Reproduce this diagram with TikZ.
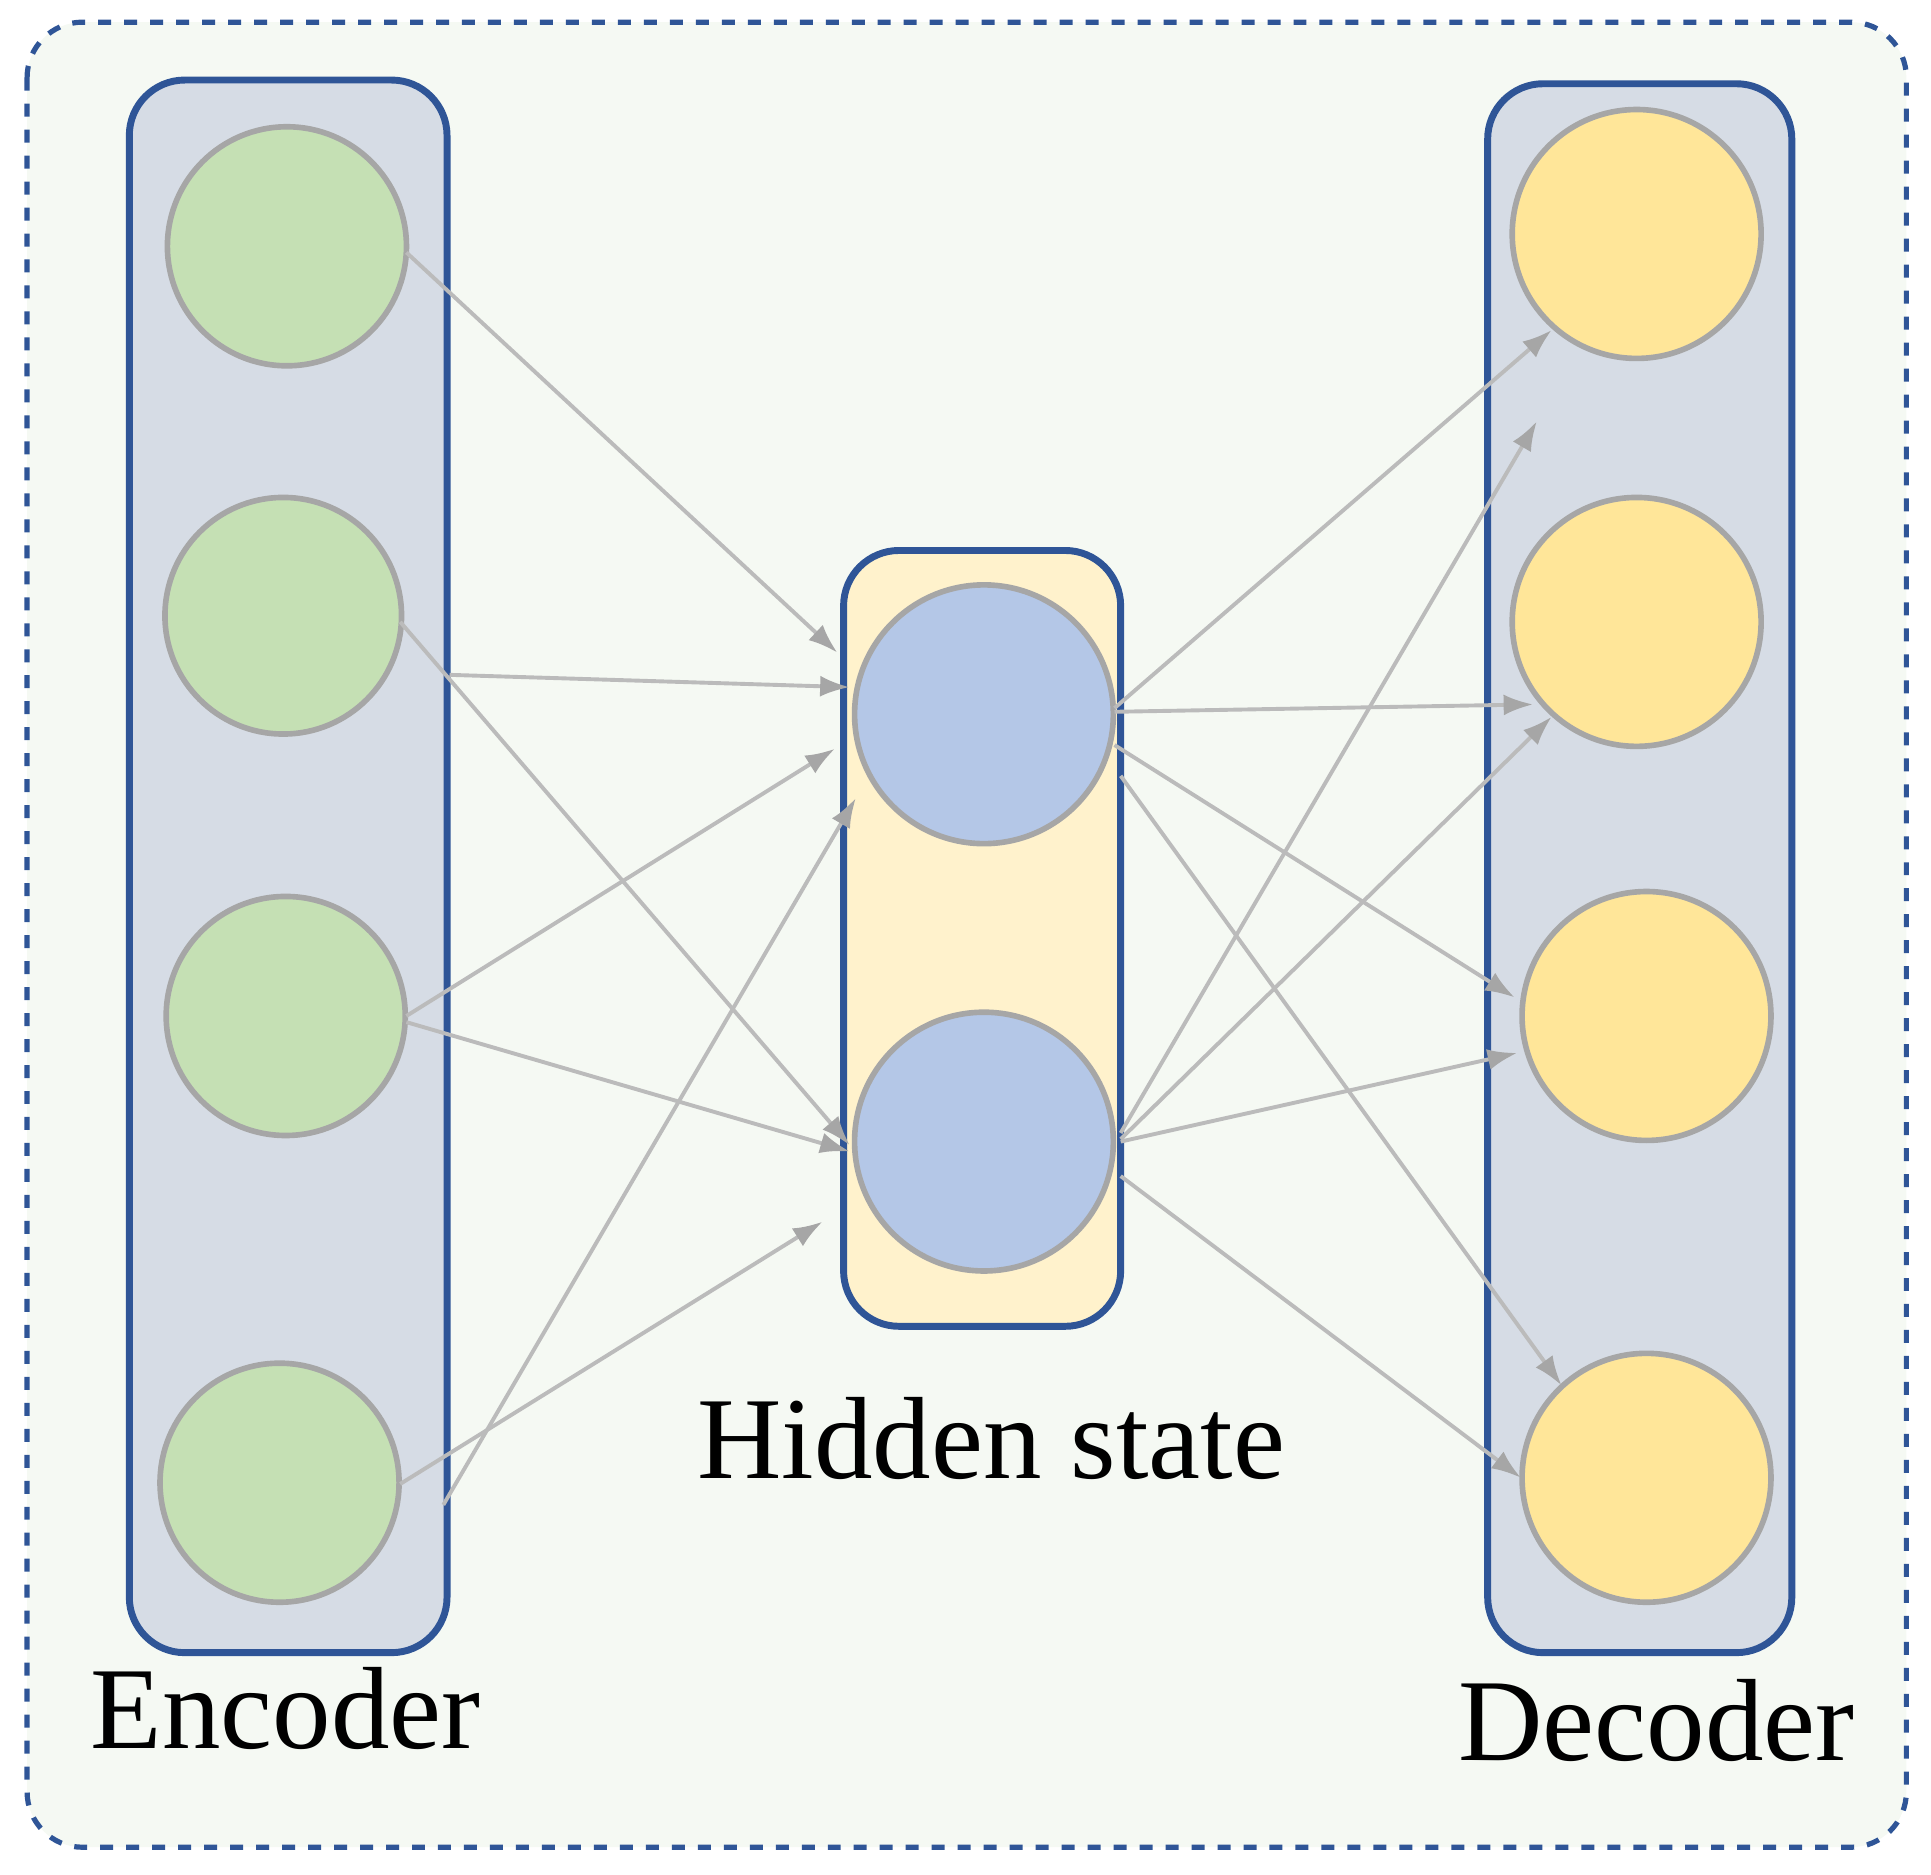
\documentclass[tikz,border=0pt]{standalone}
\usepackage{fontspec}
\setmainfont{Liberation Serif}
\usetikzlibrary{arrows.meta}
\definecolor{frame}{HTML}{2F5597}
\definecolor{bgout}{HTML}{F5F9F3}
\definecolor{boxb}{HTML}{D6DCE5}
\definecolor{boxy}{HTML}{FFF2CC}
\definecolor{cg}{HTML}{C5E0B4}
\definecolor{cb}{HTML}{B4C7E7}
\definecolor{cy}{HTML}{FFE699}
\definecolor{edge}{HTML}{A6A6A6}
\definecolor{arr}{HTML}{BBBBBB}
\begin{document}
\begin{tikzpicture}[x=0.01cm,y=-0.01cm,
  box/.style={draw=frame,line width=1.6pt,rounded corners=0.45cm},
  unit/.style={circle,draw=edge,line width=1.3pt,inner sep=0pt},
  con/.style={draw=arr,line width=0.9pt,-{Latex[length=0.24cm,width=0.17cm,color=edge]}},
  lab/.style={font=\fontsize{27}{30}\selectfont}]
\useasboundingbox (0,0) rectangle (1568,1522);
\draw[box,dashed,line width=1.2pt,fill=bgout] (22,18) rectangle (1548,1500);
\draw[box,fill=boxb] (105,65) rectangle (363,1342);
\draw[box,fill=boxy] (685,447) rectangle (910,1077);
\draw[box,fill=boxb] (1208,68) rectangle (1455,1342);
\node[unit,fill=cg,minimum size=1.94cm] (e1) at (233,200) {};
\node[unit,fill=cg,minimum size=1.92cm] (e2) at (230,500) {};
\node[unit,fill=cg,minimum size=1.94cm] (e3) at (232,825) {};
\node[unit,fill=cg,minimum size=1.94cm] (e4) at (227,1204) {};
\node[unit,fill=cb,minimum size=2.1cm] (h1) at (799,580) {};
\node[unit,fill=cb,minimum size=2.1cm] (h2) at (799,927) {};
\node[unit,fill=cy,minimum size=2.02cm] (d1) at (1329,190) {};
\node[unit,fill=cy,minimum size=2.02cm] (d2) at (1329,505) {};
\node[unit,fill=cy,minimum size=2.02cm] (d3) at (1337,825) {};
\node[unit,fill=cy,minimum size=2.02cm] (d4) at (1337,1200) {};
\node[lab] (le) at (232,1387) {Encoder};
\node[lab] (lh) at (805,1168) {Hidden state};
\node[lab] (ld) at (1345,1397) {Decoder};
% encoder -> hidden
\coordinate (a1) at (680,530); \coordinate (a2) at (690,558);
\coordinate (a3) at (678,608); \coordinate (a4) at (695,648);
\coordinate (a5) at (690,930); \coordinate (a6) at (690,935);
\coordinate (a7) at (668,992);
\coordinate (s1) at (330,205); \coordinate (s2) at (325,505);
\coordinate (s3) at (365,548); \coordinate (s4) at (330,825);
\coordinate (s5) at (330,830); \coordinate (s6) at (325,1205);
\coordinate (s7) at (360,1222);
\draw[con] (s1) -- (a1);
\draw[con] (s2) -- (a5);
\draw[con] (s3) -- (a2);
\draw[con] (s4) -- (a3);
\draw[con] (s5) -- (a6);
\draw[con] (s6) -- (a7);
\draw[con] (s7) -- (a4);
% hidden -> decoder
\coordinate (t1) at (905,575); \coordinate (t2) at (905,578);
\coordinate (t3) at (905,605); \coordinate (t4) at (910,630);
\coordinate (u1) at (910,920); \coordinate (u2) at (910,925);
\coordinate (u3) at (910,927); \coordinate (u4) at (910,955);
\coordinate (b1) at (1260,268); \coordinate (b2) at (1245,572);
\coordinate (b3) at (1230,810); \coordinate (b4) at (1268,1125);
\coordinate (c1) at (1248,342); \coordinate (c2) at (1260,582);
\coordinate (c3) at (1232,855); \coordinate (c4) at (1235,1200);
\draw[con] (t1) -- (b1);
\draw[con] (t2) -- (b2);
\draw[con] (t3) -- (b3);
\draw[con] (t4) -- (b4);
\draw[con] (u1) -- (c1);
\draw[con] (u2) -- (c2);
\draw[con] (u3) -- (c3);
\draw[con] (u4) -- (c4);
\end{tikzpicture}
\end{document}
